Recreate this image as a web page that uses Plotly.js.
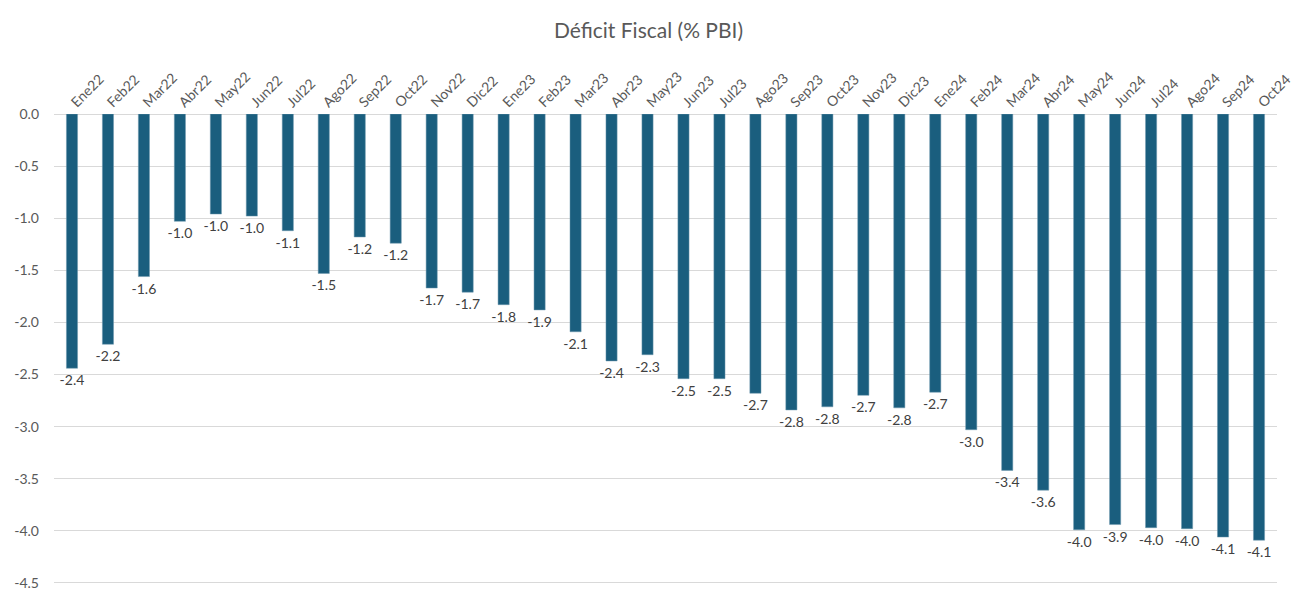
<!DOCTYPE html>
<html>
<head>
<meta charset="utf-8">
<script src="https://cdn.plot.ly/plotly-3.0.1.min.js"></script>
<style>html,body{margin:0;padding:0;background:#fff;}#chart{width:1297px;height:603px;}</style>
</head>
<body>
<div id="chart"></div>
<script>
const categories = ["Ene22","Feb22","Mar22","Abr22","May22","Jun22","Jul22","Ago22","Sep22","Oct22","Nov22","Dic22",
  "Ene23","Feb23","Mar23","Abr23","May23","Jun23","Jul23","Ago23","Sep23","Oct23","Nov23","Dic23",
  "Ene24","Feb24","Mar24","Abr24","May24","Jun24","Jul24","Ago24","Sep24","Oct24"];
const deficit = [-2.44,-2.21,-1.56,-1.03,-0.96,-0.98,-1.12,-1.53,-1.18,-1.24,-1.67,-1.71,
  -1.83,-1.88,-2.09,-2.37,-2.31,-2.54,-2.54,-2.68,-2.84,-2.81,-2.70,-2.82,
  -2.67,-3.03,-3.42,-3.61,-3.99,-3.94,-3.97,-3.98,-4.06,-4.09];
const yTicks = [0,-0.5,-1,-1.5,-2,-2.5,-3,-3.5,-4,-4.5];
const yTickText = ["0.0","-0.5","-1.0","-1.5","-2.0","-2.5","-3.0","-3.5","-4.0","-4.5"];

const font = "Lato, 'Open Sans', sans-serif";
Plotly.newPlot("chart", [{
  type: "bar",
  x: categories,
  y: deficit,
  marker: {color: "#1A5E7E", line: {color: "#6E98AE", width: 0.5}},
  texttemplate: "%{y:.1f}",
  textposition: "outside",
  constraintext: "none",
  textfont: {family: font, size: 14, color: "#404040"},
  cliponaxis: false,
  hoverinfo: "x+y"
}], {
  width: 1297, height: 603,
  margin: {l: 54, r: 20, t: 114, b: 18},
  paper_bgcolor: "#fff", plot_bgcolor: "#fff",
  title: {text: "Déficit Fiscal (% PBI)", x: 0.5, xanchor: "center", y: 0.95, yanchor: "middle",
          font: {family: font, size: 21, color: "#595959"}},
  bargap: 0.69,
  showlegend: false,
  xaxis: {
    side: "top", type: "category", range: [-0.5, 33.5],
    tickangle: -45, showgrid: false, showline: false, ticks: "",
    tickfont: {family: font, size: 14, color: "#595959"}
  },
  yaxis: {
    range: [-4.52, 0], tickvals: yTicks, ticktext: yTickText,
    showgrid: true, gridcolor: "#D9D9D9", gridwidth: 1,
    zeroline: true, zerolinecolor: "#D9D9D9", zerolinewidth: 1,
    showline: false, ticks: "", ticklabelstandoff: 14,
    tickfont: {family: font, size: 14, color: "#595959"}
  }
}, {displayModeBar: false, staticPlot: true});
</script>
</body>
</html>
